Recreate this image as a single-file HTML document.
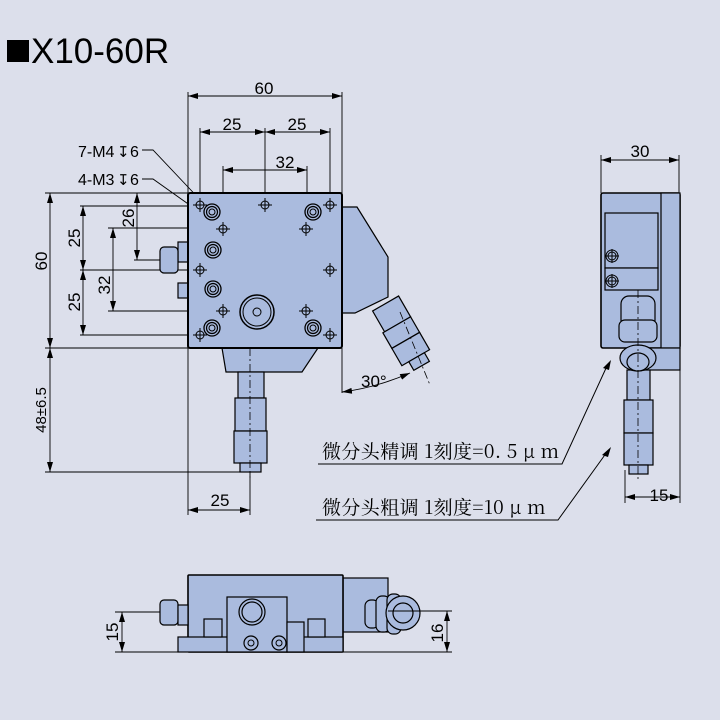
<!DOCTYPE html>
<html><head><meta charset="utf-8"><style>
html,body{margin:0;padding:0;background:#dcdfeb;}
svg{display:block;}
text{font-family:"Liberation Sans","Noto Sans CJK SC",sans-serif;fill:#000;}
.cn{font-family:"Noto Serif CJK SC","Liberation Serif",serif;}
</style></head><body>
<svg width="720" height="720" viewBox="0 0 720 720" xmlns="http://www.w3.org/2000/svg">
<defs>
<marker id="a" markerWidth="10" markerHeight="6" refX="10" refY="3" orient="auto-start-reverse" markerUnits="userSpaceOnUse"><path d="M0,0 L10,3 L0,6 z" fill="#000"/></marker>
<g id="cs"><circle r="8" fill="none" stroke="#000" stroke-width="1.3"/><circle r="5.5" fill="none" stroke="#000" stroke-width="1.2"/><circle r="3" fill="none" stroke="#000" stroke-width="1"/></g>
<g id="cr"><circle r="4" fill="none" stroke="#000" stroke-width="1"/><path d="M-7,0 H7 M0,-7 V7" stroke="#000" stroke-width="1"/></g>
</defs>
<rect width="720" height="720" fill="#dcdfeb"/>
<rect x="7" y="40" width="22" height="22" fill="#000"/>
<text x="31" y="63" font-size="35">X10-60R</text>

<g stroke="#000" fill="none" stroke-width="0.9">
<path d="M188,92 V193 M342,92 V193 M200,128 V193 M265,128 V193 M330,128 V193 M223,166 V330 M307,166 V330"/>
<path d="M188,96 H342" marker-start="url(#a)" marker-end="url(#a)"/>
<path d="M200,132 H265" marker-start="url(#a)" marker-end="url(#a)"/>
<path d="M265,132 H330" marker-start="url(#a)" marker-end="url(#a)"/>
<path d="M223,170 H307" marker-start="url(#a)" marker-end="url(#a)"/>
<path d="M45,193 H188 M80,206 H200 M80,270 H200 M80,335 H200 M108,228 H223 M108,311 H223 M134,260 H170 M45,348 H188 M45,472 H250"/>
<path d="M50,193 V348" marker-start="url(#a)" marker-end="url(#a)"/>
<path d="M83,206 V270" marker-start="url(#a)" marker-end="url(#a)"/>
<path d="M83,270 V335" marker-start="url(#a)" marker-end="url(#a)"/>
<path d="M137,193 V260" marker-start="url(#a)" marker-end="url(#a)"/>
<path d="M113,228 V311" marker-start="url(#a)" marker-end="url(#a)"/>
<path d="M50,348 V472" marker-start="url(#a)" marker-end="url(#a)"/>
<path d="M188,348 V515 M250,470 V515"/>
<path d="M188,510 H250" marker-start="url(#a)" marker-end="url(#a)"/>
<path d="M142,150 H153 L205,205"/>
<path d="M142,179 H153 L222,228"/>
</g>
<text x="264" y="94" font-size="17" text-anchor="middle">60</text>
<text x="232" y="130" font-size="17" text-anchor="middle">25</text>
<text x="297" y="130" font-size="17" text-anchor="middle">25</text>
<text x="285" y="168" font-size="17" text-anchor="middle">32</text>
<text x="78" y="157" font-size="16">7-M4</text><text x="117" y="157" font-size="15" fill="#777">↧</text><text x="130" y="157" font-size="16">6</text>
<text x="78" y="185" font-size="16">4-M3</text><text x="117" y="185" font-size="15" fill="#777">↧</text><text x="130" y="185" font-size="16">6</text>
<text transform="translate(47,261) rotate(-90)" font-size="17" text-anchor="middle">60</text>
<text transform="translate(80,238) rotate(-90)" font-size="17" text-anchor="middle">25</text>
<text transform="translate(80,302) rotate(-90)" font-size="17" text-anchor="middle">25</text>
<text transform="translate(134,218) rotate(-90)" font-size="17" text-anchor="middle">26</text>
<text transform="translate(110,285) rotate(-90)" font-size="17" text-anchor="middle">32</text>
<text transform="translate(46,410) rotate(-90)" font-size="15" text-anchor="middle">48±6.5</text>
<text x="220" y="506" font-size="17" text-anchor="middle">25</text>

<g stroke="#000" stroke-width="1.2" fill="#aabbde">
<path d="M342,207 H357 L388,257 V297 L355,313 H342 Z"/>
<rect x="178" y="242" width="10" height="20"/>
<rect x="178" y="283" width="10" height="15"/>
<rect x="160" y="247" width="18" height="26" rx="4"/>
<path d="M222,348 H318 L302,372 H226 Z"/>
<rect x="238" y="372" width="26" height="26"/>
<rect x="235" y="398" width="31" height="33"/>
<rect x="234" y="431" width="33" height="32"/>
<rect x="240" y="463" width="21" height="9"/>
<g transform="translate(383,305) rotate(-30)">
<rect x="-12" y="0" width="30" height="24"/>
<rect x="-14" y="24" width="32" height="18"/>
<rect x="-14" y="42" width="32" height="20"/>
<rect x="-6" y="62" width="18" height="10"/>
</g>
<rect x="188" y="193" width="154" height="155" rx="2" stroke-width="2"/>
</g>
<path d="M250,348 V478 M400,312 L430,385" stroke="#000" stroke-width="0.8" stroke-dasharray="8,3,2,3" fill="none"/>
<g>
<use href="#cs" x="212" y="212"/><use href="#cs" x="313" y="212"/>
<use href="#cs" x="213" y="250"/><use href="#cs" x="213" y="289"/>
<use href="#cs" x="212" y="328"/><use href="#cs" x="313" y="328"/>
<use href="#cr" x="200" y="205"/><use href="#cr" x="265" y="205"/><use href="#cr" x="330" y="205"/>
<use href="#cr" x="223" y="229"/><use href="#cr" x="306" y="229"/>
<use href="#cr" x="200" y="270"/><use href="#cr" x="330" y="270"/>
<use href="#cr" x="223" y="311"/><use href="#cr" x="306" y="311"/>
<use href="#cr" x="200" y="335"/><use href="#cr" x="330" y="335"/>
<circle cx="257" cy="312" r="17" fill="none" stroke="#000" stroke-width="1.5"/>
<circle cx="257" cy="312" r="14" fill="none" stroke="#000" stroke-width="1"/>
<circle cx="257" cy="312" r="4" fill="none" stroke="#000"/>
</g>
<path d="M342,348 V393" stroke="#000" stroke-width="0.9"/>
<path d="M342,392 Q375,388 410,373" stroke="#000" stroke-width="0.9" fill="none" marker-start="url(#a)" marker-end="url(#a)"/>
<text x="361" y="387" font-size="17">30°</text>

<g stroke="#000" stroke-width="0.9" fill="none">
<path d="M601,155 V193 M679,155 V193"/>
<path d="M601,160 H679" marker-start="url(#a)" marker-end="url(#a)"/>
<path d="M680,348 V503 M625,470 V503"/>
<path d="M625,497 H680" marker-start="url(#a)" marker-end="url(#a)"/>
</g>
<text x="640" y="157" font-size="17" text-anchor="middle">30</text>
<text x="659" y="501" font-size="17" text-anchor="middle">15</text>
<g stroke="#000" stroke-width="1.2" fill="#aabbde">
<rect x="601" y="193" width="79" height="155" rx="2" stroke-width="1.6"/>
<rect x="605" y="213" width="53" height="55"/>
<rect x="605" y="268" width="53" height="22"/>
<rect x="661" y="193" width="19" height="155"/>
<rect x="630" y="348" width="50" height="22"/>
<rect x="627" y="370" width="23" height="30"/>
<rect x="624" y="400" width="29" height="33"/>
<rect x="624" y="433" width="29" height="32"/>
<rect x="629" y="465" width="19" height="9"/>
<rect x="621" y="296" width="34" height="32" rx="8"/>
<rect x="619" y="320" width="38" height="22" rx="6"/>
<ellipse cx="638" cy="358" rx="18" ry="13"/>
<ellipse cx="638" cy="362" rx="11" ry="9"/>
</g>
<use href="#cr" x="612" y="256"/><use href="#cr" x="612" y="281"/>
<circle cx="612" cy="256" r="6" fill="none" stroke="#000"/><circle cx="612" cy="281" r="6" fill="none" stroke="#000"/>
<path d="M638,290 V480" stroke="#000" stroke-width="0.8" stroke-dasharray="8,3,2,3"/>

<g stroke="#000" stroke-width="1" fill="none">
<path d="M318,464 H562 L607,366"/>
<path d="M316,520 H558 L607,452"/>
</g>
<path d="M611,360 L603,368 L609,370 Z M611,447 L602,455 L608,457 Z" fill="#000"/>
<text class="cn" x="322" y="458" font-size="19" letter-spacing="0.4">微分头精调 1刻度=0. 5 μ m</text>
<text class="cn" x="322" y="514" font-size="19" letter-spacing="0.4">微分头粗调 1刻度=10 μ m</text>

<g stroke="#000" stroke-width="1.2" fill="#aabbde">
<rect x="343" y="578" width="45" height="54"/>
<rect x="188" y="575" width="155" height="77" rx="1" stroke-width="1.6"/>
<rect x="178" y="637" width="165" height="15"/>
<rect x="160" y="600" width="18" height="25" rx="4"/>
<rect x="178" y="605" width="10" height="20"/>
<rect x="227" y="597" width="60" height="55"/>
<rect x="287" y="622" width="17" height="30"/>
<rect x="204" y="619" width="18" height="18"/>
<rect x="308" y="619" width="17" height="18"/>
<rect x="365" y="600" width="14" height="28" rx="6"/>
<rect x="376" y="596" width="14" height="36" rx="6"/>
<rect x="387" y="594" width="14" height="40" rx="6"/>
<circle cx="403" cy="613" r="17"/>
<circle cx="403" cy="613" r="10"/>
<circle cx="252" cy="612" r="13"/>
<circle cx="252" cy="612" r="10"/>
<circle cx="251" cy="643" r="7"/>
<circle cx="279" cy="643" r="7"/>
</g>
<circle cx="251" cy="643" r="3" fill="none" stroke="#000"/><circle cx="279" cy="643" r="3" fill="none" stroke="#000"/>
<g stroke="#000" stroke-width="0.9" fill="none">
<path d="M115,612 H160 M115,652 H188 M388,611 H452 M343,652 H452"/>
<path d="M122,612 V652" marker-start="url(#a)" marker-end="url(#a)"/>
<path d="M447,611 V652" marker-start="url(#a)" marker-end="url(#a)"/>
</g>
<text transform="translate(118,632) rotate(-90)" font-size="17" text-anchor="middle">15</text>
<text transform="translate(443,633) rotate(-90)" font-size="17" text-anchor="middle">16</text>
</svg>
</body></html>
